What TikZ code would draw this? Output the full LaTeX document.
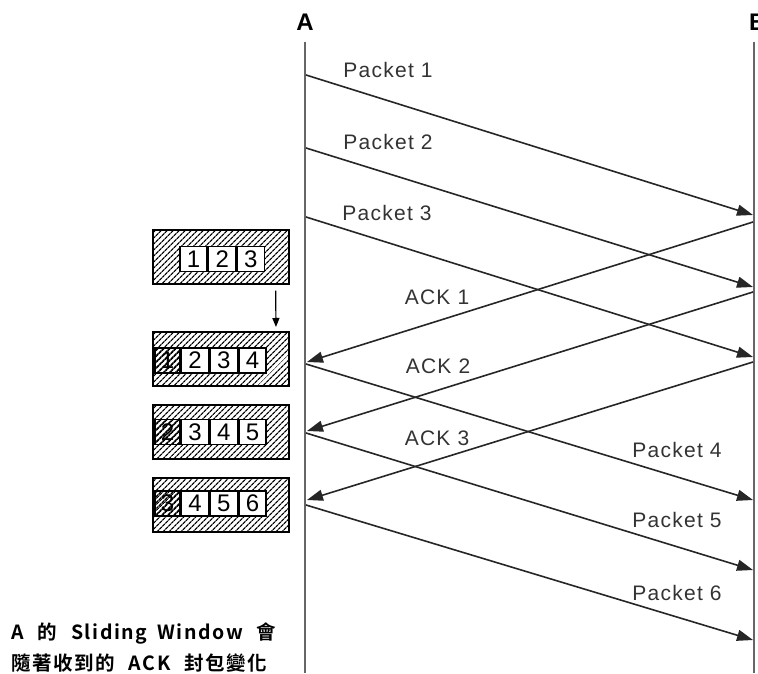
\documentclass[tikz,border=0pt]{standalone}
\usepackage{fontspec}
\setmainfont{Liberation Sans}
\newfontfamily\cjk{Noto Sans CJK TC}[BoldFont={Noto Sans CJK TC Bold}]
\usetikzlibrary{arrows.meta,patterns.meta,positioning}

\begin{document}
\begin{tikzpicture}[
  x=1pt, y=-1pt,
  >={Triangle[length=16pt,width=11pt]},
  msg/.style={->,line width=1.6pt,black!85},
  lifeline/.style={line width=2.2pt,black!60},
  msglabel/.style={font=\fontsize{21}{21}\selectfont\addfontfeature{LetterSpace=6},text=black!80,inner sep=0pt},
  hostlabel/.style={font=\fontsize{24}{24}\selectfont\bfseries,inner sep=0pt},
  hatch/.style={pattern={Lines[angle=45,distance=4pt,line width=1.3pt]}},
  winbox/.style={draw,line width=2pt,hatch,minimum width=136pt,minimum height=54pt,inner sep=0pt},
  cell/.style={draw,line width=1.4pt,fill=white,minimum width=27.3pt,minimum height=25pt,inner sep=0pt,font=\fontsize{24}{24}\selectfont},
  oldcell/.style={draw,line width=1.4pt,hatch,minimum width=25pt,minimum height=25pt,inner sep=0pt,font=\fontsize{24}{24}\selectfont},
  note/.style={font=\cjk\bfseries\fontsize{19.5}{30}\selectfont\addfontfeature{LetterSpace=8},anchor=west,inner sep=0pt},
]

\useasboundingbox (0,0) rectangle (758,673);

% ===================================================================
% hosts and life lines
% ===================================================================
\node[hostlabel] (A) at (305,22) {A};
\node[hostlabel,anchor=west] (B) at (749,22) {B};
\coordinate (Atop) at (305,42);
\coordinate (Abot) at (305,673);
\coordinate (Btop) at (754,42);
\coordinate (Bbot) at (754,673);
\draw[lifeline] (Atop) -- (Abot);
\draw[lifeline] (Btop) -- (Bbot);

% ===================================================================
% packets A -> B
% ===================================================================
\foreach \i/\ya/\yb in {1/75/215, 2/148/287, 3/217/357, 4/364/500, 5/433/570, 6/505/640} {
  \coordinate (s\i) at (306,\ya);
  \coordinate (r\i) at (753,\yb);
  \draw[msg] (s\i) -- (r\i);
}
\foreach \i/\x/\y in {1/388/70, 2/388/142, 3/387/213, 4/677/450, 5/677/520, 6/677/593} {
  \node[msglabel] (pl\i) at (\x,\y) {Packet \i};
}

% ===================================================================
% ACKs B -> A
% ===================================================================
\foreach \i/\yb/\ya in {1/222/362, 2/292/431, 3/362/500} {
  \coordinate (k\i) at (753,\yb);
  \coordinate (g\i) at (307,\ya);
  \draw[msg] (k\i) -- (g\i);
}
\foreach \i/\x/\y in {1/437/297, 2/438/366, 3/437/438} {
  \node[msglabel] (al\i) at (\x,\y) {ACK \i};
}

% ===================================================================
% sliding window of A
% ===================================================================
\node[winbox] (w1) at (221,257) {};
\node[winbox] (w2) at (221,359) {};
\node[winbox] (w3) at (221,431.5) {};
\node[winbox] (w4) at (221,504.5) {};

\node[cell] (w1-c1) at (193.5,259) {1};
\node[cell,right=0pt of w1-c1] (w1-c2) {2};
\node[cell,right=0pt of w1-c2] (w1-c3) {3};

% acked slot stays hatched, three open slots
\foreach \w/\y/\a/\b/\c/\d in {2/360.5/1/2/3/4, 3/432/2/3/4/5, 4/503.5/3/4/5/6} {
  \node[oldcell] (w\w-c0) at (167.5,\y) {\a};
  \node[cell,right=0pt of w\w-c0] (w\w-c1) {\b};
  \node[cell,right=0pt of w\w-c1] (w\w-c2) {\c};
  \node[cell,right=0pt of w\w-c2] (w\w-c3) {\d};
}

\draw[->,line width=1.2pt,>={Triangle[length=9pt,width=7pt]},shorten <=6pt,shorten >=4pt]
  ([xshift=-14pt]w1.south east) -- ([xshift=-14pt]w2.north east);

% ===================================================================
% caption
% ===================================================================
\node[note] (n1) at (11,633) {A\hspace{8pt} 的\hspace{8pt} Sliding\hspace{4pt} Window\hspace{8pt} 會};
\node[note] (n2) at (11,663) {隨著收到的\hspace{8pt} ACK\hspace{8pt} 封包變化};

\end{tikzpicture}
\end{document}
